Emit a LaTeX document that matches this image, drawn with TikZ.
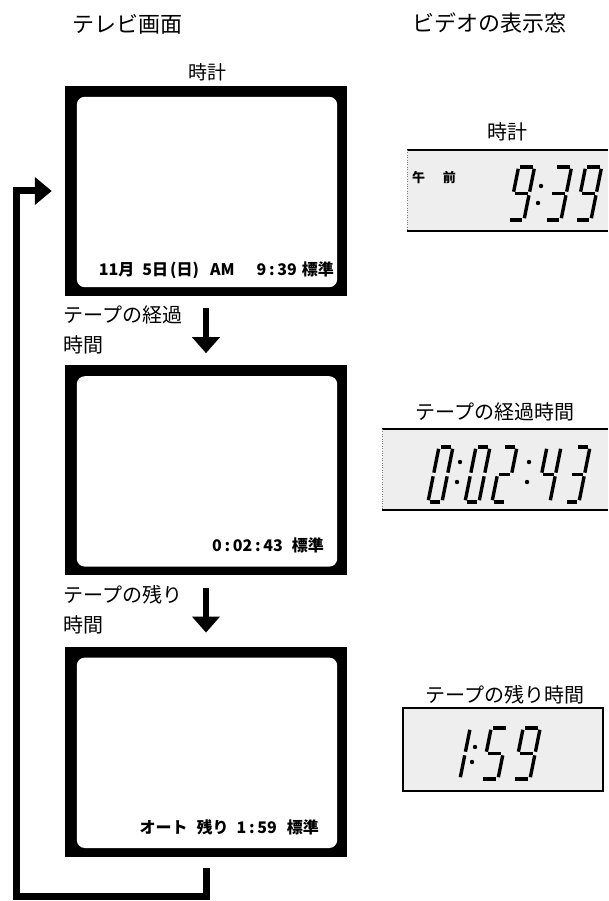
\documentclass[tikz,border=0pt]{standalone}
\usepackage{fontspec}
\setmainfont{Noto Sans CJK JP}
\usepackage{tikz}
\usetikzlibrary{arrows.meta, positioning, calc}
\definecolor{cLcd}{RGB}{238,238,238}
\tikzset{
	tvset/.style    ={rectangle, fill=black, minimum width=282pt, minimum height=210pt, inner sep=0pt},
	screen/.style   ={fill=white, rounded corners=8pt},
	scrtext/.style  ={font=\fontsize{16}{18}\selectfont\bfseries, inner sep=0pt, anchor=east},
	head/.style     ={font=\fontsize{22}{24}\selectfont, inner sep=0pt},
	lbl/.style      ={font=\fontsize{20}{30}\selectfont, inner sep=0pt, align=left},
	downarrow/.style={line width=6pt, -{Triangle[width=27pt, length=16pt]}},
	looparrow/.style={line width=7pt, -{Triangle[width=27pt, length=17pt]}},
	% display window styles
	lcdfill/.style  ={fill=cLcd},
	lcdedge/.style  ={line width=1.8pt},
	segline/.style  ={line width=3.4pt, line cap=butt},
	segdot/.style   ={fill=black},
	pics/segdigit/.style={code={
		\coordinate (TL) at (0,-\segh);
		\coordinate (TR) at (\segw,-\segh);
		\coordinate (ML) at (0,-\segh/2);
		\coordinate (MR) at (\segw,-\segh/2);
		\coordinate (BL) at (0,0);
		\coordinate (BR) at (\segw,0);
		\foreach \p/\q in #1 {
			\draw[segline] ($(\p)!1.8pt!(\q)$) -- ($(\q)!1.8pt!(\p)$);
		}
	}},
}
% segments of the digits
\def\segzero{TL/TR,TR/MR,MR/BR,BL/BR,ML/BL,TL/ML}
\def\segone{TR/MR,MR/BR}
\def\segtwo{TL/TR,TR/MR,ML/MR,ML/BL,BL/BR}
\def\segthree{TL/TR,TR/MR,ML/MR,MR/BR,BL/BR}
\def\segfour{TL/ML,ML/MR,TR/MR,MR/BR}
\def\segfive{TL/TR,TL/ML,ML/MR,MR/BR,BL/BR}
\def\segnine{TL/TR,TR/MR,TL/ML,ML/MR,MR/BR,BL/BR}
\begin{document}
\begin{tikzpicture}[x=1pt, y=-1pt]
	\useasboundingbox (0,0) rectangle (608,901);
	% headings
	\node[head] (tvhead) at (127,24) {テレビ画面};
	\node[head] (vidhead) at (489,23) {ビデオの表示窓};
	% tv screens
	\node[tvset] (tv1) at (206,191) {};
	\node[tvset, below=69pt of tv1] (tv2) {};
	\node[tvset, below=71pt of tv2] (tv3) {};
	\foreach \t in {tv1,tv2,tv3}
		\fill[screen] ([shift={(12,11)}]\t.north west) rectangle ([shift={(-10,-9)}]\t.south east);
	\node[font=\fontsize{19}{20}\selectfont, inner sep=0pt] (clk1) at (207,72) {時計};
	\node[scrtext] (scr1) at (334,270) {11月\hspace{8pt}5日\hspace{2pt}(日)\hspace{11pt}AM\hspace{22pt}9\,:\,39\hspace{5pt}標準};
	\node[scrtext] (scr2) at (324,545) {0\,:\,02\,:\,43\hspace{9pt}標準};
	\node[scrtext] (scr3) at (319,827) {オート\hspace{9pt}残り\hspace{8pt}1\,:\,59\hspace{10pt}標準};
	% arrows between screens
	\draw[downarrow] ([yshift=-12pt]tv1.south) -- ([yshift=12pt]tv2.north);
	\draw[downarrow] ([yshift=-12pt]tv2.south) -- ([yshift=14pt]tv3.north);
	\node[lbl, anchor=west] (lbl1) at (63,330) {テープの経過\\時間};
	\node[lbl, anchor=west] (lbl2) at (63,610) {テープの残り\\時間};
	\coordinate (loopbot) at (16,896);
	\draw[looparrow] ([yshift=-11pt]tv3.south) |- (loopbot) |- ([xshift=-13pt]tv1.west);
	% display windows
	\fill[lcdfill] (407,150) rectangle (608,231);
	\draw[lcdedge] (407,150) -- (608,150) (407,231) -- (608,231);
	\draw[dotted, gray] (407,150) -- (407,231);
	\node[font=\fontsize{20}{22}\selectfont, inner sep=0pt] (win1lbl) at (507,132) {時計};
	\node[font=\fontsize{13}{14}\selectfont\bfseries, inner sep=0pt] (ampm) at (434,178) {午\hspace{18pt}前};
	\fill[lcdfill] (382,429) rectangle (608,510);
	\draw[lcdedge] (382,429) -- (608,429) (382,510) -- (608,510);
	\draw[dotted, gray] (382,429) -- (382,510);
	\node[font=\fontsize{20}{22}\selectfont, inner sep=0pt] (win2lbl) at (495,412) {テープの経過時間};
	\draw[lcdfill, line width=1.2pt] (403,708) rectangle (603,791);
	\node[font=\fontsize{20}{22}\selectfont, inner sep=0pt] (win3lbl) at (505,695) {テープの残り時間};
	% digits 9:39
	\def\segw{16}\def\segh{53}
	\pic[xslant=0.2] at (508,220) {segdigit=\segnine};
	\pic[xslant=0.2] at (545,220) {segdigit=\segthree};
	\pic[xslant=0.2] at (575,220) {segdigit=\segnine};
	\fill[segdot] (541,186) circle[radius=2.2pt] (538,203) circle[radius=2.2pt];
	% digits 0:02:43
	\def\segw{14}\def\segh{55}
	\pic[xslant=0.2] at (428,502) {segdigit=\segzero};
	\pic[xslant=0.2] at (465,502) {segdigit=\segzero};
	\pic[xslant=0.2] at (492,502) {segdigit=\segtwo};
	\pic[xslant=0.2] at (536,502) {segdigit=\segfour};
	\pic[xslant=0.2] at (565,502) {segdigit=\segthree};
	\fill[segdot] (460,462) circle[radius=2.2pt] (457,482) circle[radius=2.2pt];
	\fill[segdot] (529,462) circle[radius=2.2pt] (527,482) circle[radius=2.2pt];
	% digits 1:59
	\def\segw{17}\def\segh{51}
	\pic[xslant=0.2] at (443,779) {segdigit=\segone};
	\pic[xslant=0.2] at (481,779) {segdigit=\segfive};
	\pic[xslant=0.2] at (513,779) {segdigit=\segnine};
	\fill[segdot] (475,747) circle[radius=2.2pt] (472,762) circle[radius=2.2pt];
\end{tikzpicture}
\end{document}
